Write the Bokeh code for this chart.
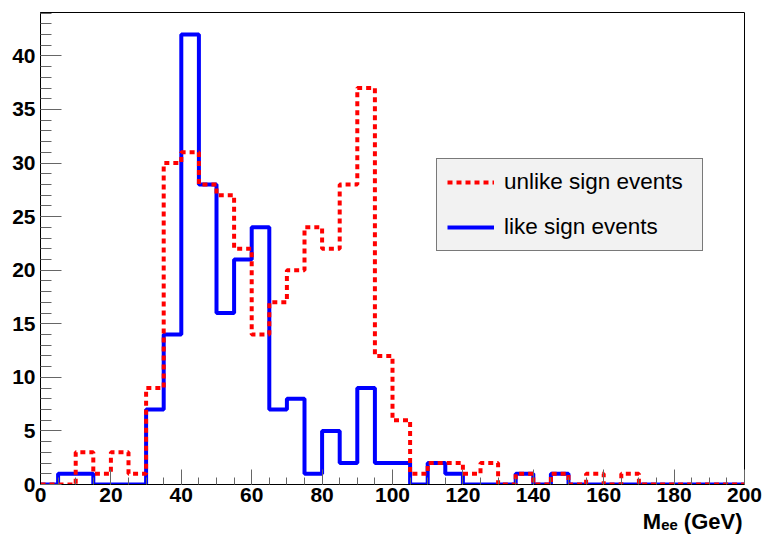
import numpy as np
from bokeh.plotting import figure
from bokeh.models import (Range1d, SingleIntervalTicker, Legend, LegendItem, Title,
                          ColumnDataSource)
from bokeh.embed import file_html
from bokeh.resources import INLINE

# ---- data (5 GeV bins from 0 to 200) ----
bin_edges = list(range(0, 205, 5))
unlike_sign = [0, 0, 3, 1, 3, 1, 9, 30, 31, 28, 27, 22, 14, 17, 20, 24, 22, 28, 37, 12,
               6, 1, 2, 2, 1, 2, 0, 1, 0, 1, 0, 1, 0, 1, 0, 0, 0, 0, 0, 0]
like_sign = [0, 1, 1, 0, 0, 0, 7, 14, 42, 28, 16, 21, 24, 7, 8, 1, 5, 2, 9, 2,
             2, 0, 2, 1, 0, 0, 0, 1, 0, 1, 0, 0, 0, 0, 0, 0, 0, 0, 0, 0]
series_labels = ["unlike sign events", "like sign events"]
x_title = "M\u2091\u2091 (GeV)"

FONT = "Liberation Sans"

p = figure(frame_width=704, frame_height=472,
           min_border_left=40, min_border_right=21, min_border_top=12, min_border_bottom=52,
           x_range=Range1d(0, 200), y_range=Range1d(0, 44.05),
           output_backend="svg", toolbar_location=None, tools="")
p.background_fill_color = "white"
p.border_fill_color = "white"
p.outline_line_color = "black"
p.outline_line_width = 1
p.xgrid.visible = False
p.ygrid.visible = False

# axes, ROOT style
p.xaxis.ticker = SingleIntervalTicker(interval=20, num_minor_ticks=4)
p.yaxis.ticker = SingleIntervalTicker(interval=5, num_minor_ticks=5)
for ax in (p.xaxis[0], p.yaxis[0]):
    ax.axis_line_color = "black"
    ax.major_tick_out = 0
    ax.minor_tick_out = 0
    ax.major_tick_line_color = "#666666"
    ax.minor_tick_line_color = "#666666"
    ax.major_label_text_font = FONT
    ax.major_label_text_font_style = "bold"
    ax.major_label_text_font_size = "21px"
    ax.major_label_text_color = "black"
p.xaxis.major_tick_in = 15
p.xaxis.minor_tick_in = 7
p.yaxis.major_tick_in = 21
p.yaxis.minor_tick_in = 11
p.xaxis.major_label_standoff = 3
p.yaxis.major_label_standoff = 5

# step outlines
xs = bin_edges
src_like = ColumnDataSource(dict(x=xs, y=like_sign + [like_sign[-1]]))
src_unlike = ColumnDataSource(dict(x=xs, y=unlike_sign + [unlike_sign[-1]]))
r_like = p.step("x", "y", source=src_like, mode="after", line_color="#0000ff", line_width=4)
r_unlike = p.step("x", "y", source=src_unlike, mode="after", line_color="#ff0000",
                  line_width=4, line_dash="5 4")

legend = Legend(items=[LegendItem(label=series_labels[0], renderers=[r_unlike]),
                       LegendItem(label=series_labels[1], renderers=[r_like])],
                location=(396, 233))
legend.background_fill_color = "#f2f2f2"
legend.background_fill_alpha = 1
legend.border_line_color = "black"
legend.border_line_width = 1
legend.label_text_font = FONT
legend.label_text_font_size = "22.5px"
legend.label_text_color = "black"
legend.glyph_width = 47
legend.glyph_height = 24
legend.label_height = 24
legend.label_width = 188
legend.spacing = 19
legend.padding = 10
legend.margin = 0
legend.label_standoff = 10
p.add_layout(legend, "center")

# x-axis title, right aligned as in ROOT
p.add_layout(Title(text=x_title, align="right", offset=2, standoff=4,
                   text_font=FONT, text_font_style="bold", text_font_size="22px",
                   text_color="black"), "below")

open("out.html", "w").write(file_html(p, INLINE))
